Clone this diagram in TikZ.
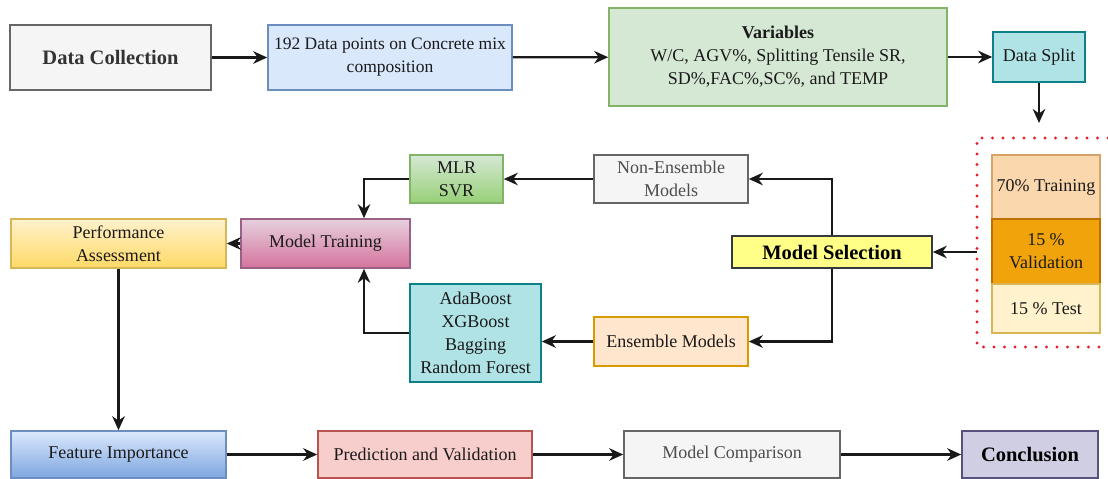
\documentclass[tikz,border=0pt]{standalone}
\usepackage{fontspec}
\setmainfont{Liberation Serif}
\usetikzlibrary{arrows.meta,calc}
\definecolor{gFill}{HTML}{F5F5F5}\definecolor{gLine}{HTML}{666666}
\definecolor{bFill}{HTML}{DAE8FC}\definecolor{bLine}{HTML}{6C8EBF}\definecolor{bDark}{HTML}{7EA6E0}
\definecolor{grFill}{HTML}{D5E8D4}\definecolor{grLine}{HTML}{82B366}\definecolor{grDark}{HTML}{97D077}
\definecolor{tFill}{HTML}{B0E3E6}\definecolor{tLine}{HTML}{0E8088}
\definecolor{oFill}{HTML}{FAD7AC}\definecolor{oLine}{HTML}{D6A46A}
\definecolor{vFill}{HTML}{F0A30A}\definecolor{vLine}{HTML}{BD7000}
\definecolor{yFill}{HTML}{FFF2CC}\definecolor{yLine}{HTML}{D6B656}\definecolor{yDark}{HTML}{FFD966}
\definecolor{msFill}{HTML}{FFFF88}\definecolor{msLine}{HTML}{36393D}
\definecolor{pFill}{HTML}{E6D0DE}\definecolor{pDark}{HTML}{D5739D}\definecolor{pLine}{HTML}{996185}
\definecolor{eFill}{HTML}{FFE6CC}\definecolor{eLine}{HTML}{D79B00}
\definecolor{rFill}{HTML}{F8CECC}\definecolor{rLine}{HTML}{B85450}
\definecolor{cFill}{HTML}{D0CEE2}\definecolor{cLine}{HTML}{56517E}
\definecolor{txt}{HTML}{1A1A1A}\definecolor{txtg}{HTML}{4D4D4D}
\definecolor{dotred}{HTML}{E8202A}
\tikzset{
  box/.style={draw, line width=1.6pt, inner sep=2pt, align=center, text=txt,
    font=\fontsize{18}{23}\selectfont},
  bigbold/.style={font=\fontsize{20.5}{24}\selectfont\bfseries},
  conn/.style={draw=black!90, line width=2.3pt, -{Stealth[length=14pt,width=12.5pt,inset=4.5pt]}},
  wh/.style 2 args={minimum width=#1pt, minimum height=#2pt},
}
\begin{document}
\begin{tikzpicture}[x=1pt,y=-1pt]
\useasboundingbox[fill=white] (0,0) rectangle (1108,479);
% row 1
\node[box,bigbold,fill=gFill,draw=gLine,text=black!80,wh={201}{65}] (dc) at (110.5,57.5) {Data Collection};
\node[box,fill=bFill,draw=bLine,wh={244}{65},font=\fontsize{17.5}{23}\selectfont] (pts) at (390,57.5) {192 Data points on Concrete mix\\composition};
\node[box,fill=grFill,draw=grLine,wh={338}{98}] (var) at (778,57) {\textbf{Variables}\\W/C, AGV\%, Splitting Tensile SR,\\SD\%,FAC\%,SC\%, and TEMP};
\node[box,fill=tFill,draw=tLine,wh={92}{50}] (split) at (1039,57) {Data Split};
\coordinate (splitend) at (1039,123);
% split group
\draw[dotred, line width=3.4pt, line cap=round, dash pattern=on 0pt off 10.5pt] (1108,138) -- (977,138) -- (977,347) -- (1108,347);
\coordinate (dotL) at (977,252);
\node[box,fill=oFill,draw=oLine,wh={108}{64}] (tr) at (1046,187) {70\% Training};
\node[box,fill=vFill,draw=vLine,wh={108}{65}] (va) at (1046,251.5) {15 \%\\Validation};
\node[box,fill=yFill,draw=yLine,wh={108}{49}] (te) at (1046,308.5) {15 \% Test};
% row 2
\node[box,top color=grFill,bottom color=grDark,draw=grLine,wh={93}{48}] (mlr) at (456.5,179) {MLR\\SVR};
\node[box,fill=gFill,draw=gLine,text=txtg,wh={154}{48}] (ne) at (671,179) {Non-Ensemble\\Models};
\node[box,bigbold,fill=msFill,draw=msLine,text=black,wh={200}{32}] (ms) at (832,252) {Model Selection};
\node[box,top color=yFill,bottom color=yDark,draw=yLine,wh={215}{49}] (perf) at (118.5,243.5) {Performance\\Assessment};
\node[box,top color=pFill,bottom color=pDark,draw=pLine,wh={169}{49}] (mt) at (325.5,243.5) {Model Training};
\node[box,fill=tFill,draw=tLine,wh={131}{98}] (ada) at (475.5,333) {AdaBoost\\XGBoost\\Bagging\\Random Forest};
\node[box,fill=eFill,draw=eLine,wh={154}{49}] (ens) at (671,341.5) {Ensemble Models};
\coordinate (mtx) at (364,0);
% row 3
\node[box,top color=bFill,bottom color=bDark,draw=bLine,wh={215}{47}] (fi) at (118.5,454.5) {Feature Importance};
\node[box,fill=rFill,draw=rLine,wh={214}{47}] (pv) at (425,454.5) {Prediction and Validation};
\node[box,fill=gFill,draw=gLine,text=txtg,wh={216}{47}] (mc) at (732,454.5) {Model Comparison};
\node[box,bigbold,fill=cFill,draw=cLine,text=black,wh={136}{47}] (conc) at (1030,454.5) {Conclusion};
% connectors
\draw[conn] (dc) -- (pts);
\draw[conn] (pts) -- (var);
\draw[conn] (var.east) -- (split.west);
\draw[conn] (split.south) -- (splitend);
\draw[conn] (dotL) -- (ms.east);
\draw[conn] (ms.north) |- (ne.east);
\draw[conn] (ms.south) |- (ens.east);
\draw[conn] (ne.west) -- (mlr.east);
\draw[conn] (ens.west) -- (ens.west -| ada.east);
\draw[conn] (mlr.west) -| (mt.north -| mtx);
\draw[conn] (ada.west) -| (mt.south -| mtx);
\draw[conn] (mt.west) -- (perf.east);
\draw[conn] (perf.south) -- (fi.north);
\draw[conn] (fi) -- (pv);
\draw[conn] (pv) -- (mc);
\draw[conn] (mc) -- (conc);
\end{tikzpicture}
\end{document}
